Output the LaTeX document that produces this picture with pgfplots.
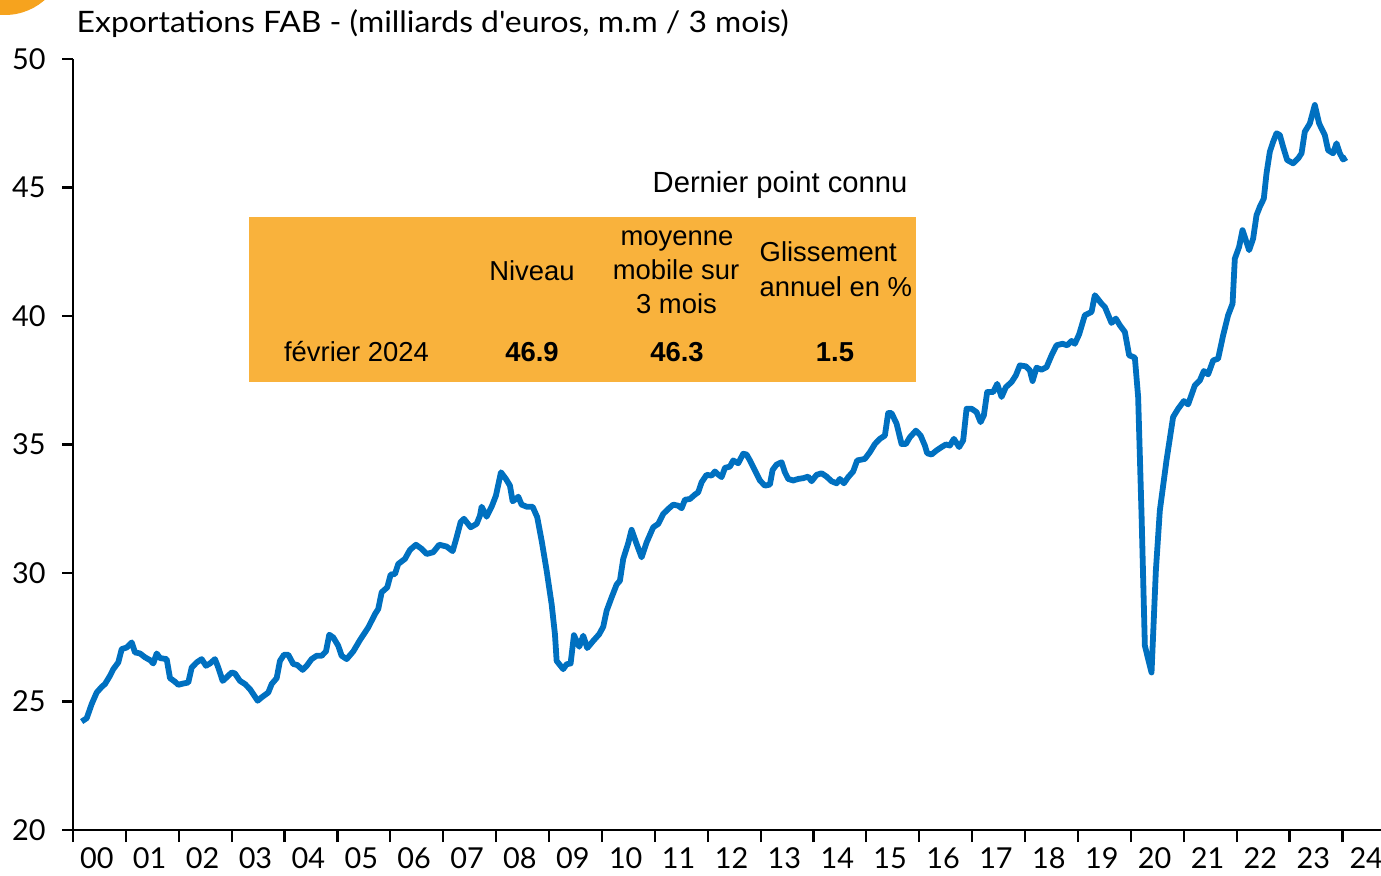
\documentclass[border=0pt]{standalone}
\usepackage{fontspec}
\setmainfont{Liberation Sans}
\newfontfamily\avfont{Lato}
\newfontfamily\avwide[FakeStretch=1.08]{Lato}
\usepackage{pgfplots}
\pgfplotsset{compat=1.18}
\definecolor{lineblue}{RGB}{0,112,192}
\definecolor{boxorange}{RGB}{249,178,60}
\definecolor{circorange}{RGB}{246,163,30}
\newcommand\tf{\fontsize{7.8pt}{9.5pt}\selectfont}
\newcommand\af{\avfont\fontsize{8.2pt}{9pt}\selectfont}
\begin{document}
\begin{tikzpicture}
\useasboundingbox (0,0) rectangle (13.81,8.75);
\begin{scope}
\clip (0,0) rectangle (13.81,8.75);
\fill[circorange] (0.05,9.20) circle (0.60);
\end{scope}
\begin{axis}[
  at={(0.73cm,0.45cm)}, anchor=south west,
  scale only axis, width=13.08cm, height=7.71cm,
  xmin=0, xmax=24.73, ymin=20, ymax=50,
  axis x line*=bottom, axis y line*=left,
  axis line style={line width=0.022cm, black, -},
  tick align=outside,
  ytick={20,25,30,35,40,45,50},
  xtick={0.45,1.45,2.45,3.45,4.45,5.45,6.45,7.45,8.45,9.45,10.45,11.45,12.45,13.45,14.45,15.45,16.45,17.45,18.45,19.45,20.45,21.45,22.45,23.45,24.45},
  xticklabels={00,01,02,03,04,05,06,07,08,09,10,11,12,13,14,15,16,17,18,19,20,21,22,23,24},
  major x tick style={draw=none},
  minor xtick={0,1,...,24},
  minor x tick style={line width=0.022cm, black},
  major y tick style={line width=0.022cm, black},
  major tick length=0.11cm, minor tick length=0.12cm,
  /pgf/number format/assume math mode=true,
  tick label style={font=\af},
  xticklabel style={yshift=0.06cm},
  yticklabel style={xshift=-0.04cm},
  clip=false,
]
\addplot[lineblue, line width=0.058cm, line join=round] coordinates {
(0.164,24.22)(0.259,24.35)(0.353,24.90)(0.448,25.35)(0.543,25.57)(0.605,25.68)(0.699,26.00)(0.762,26.26)(0.856,26.52)(0.921,27.04)(1.015,27.10)(1.110,27.30)(1.172,26.91)(1.267,26.87)(1.361,26.72)(1.456,26.61)(1.518,26.48)(1.582,26.87)(1.645,26.69)(1.771,26.65)(1.834,25.91)(1.928,25.77)(1.991,25.65)(2.085,25.70)(2.180,25.74)(2.244,26.32)(2.338,26.52)(2.433,26.65)(2.514,26.39)(2.590,26.48)(2.684,26.65)(2.747,26.32)(2.830,25.80)(2.905,25.94)(3.000,26.13)(3.062,26.09)(3.157,25.80)(3.251,25.68)(3.346,25.48)(3.408,25.29)(3.491,25.03)(3.567,25.16)(3.692,25.35)(3.756,25.68)(3.851,25.91)(3.913,26.58)(3.989,26.82)(4.070,26.82)(4.164,26.46)(4.240,26.42)(4.342,26.23)(4.418,26.39)(4.512,26.65)(4.607,26.78)(4.701,26.78)(4.783,26.95)(4.845,27.60)(4.921,27.49)(5.015,27.17)(5.079,26.78)(5.174,26.65)(5.299,26.95)(5.425,27.39)(5.582,27.88)(5.709,28.40)(5.771,28.60)(5.836,29.25)(5.941,29.44)(6.006,29.94)(6.087,29.96)(6.149,30.35)(6.276,30.55)(6.371,30.90)(6.484,31.10)(6.592,30.94)(6.686,30.74)(6.811,30.81)(6.924,31.10)(7.064,31.03)(7.178,30.85)(7.253,31.39)(7.329,31.98)(7.391,32.11)(7.518,31.78)(7.631,31.91)(7.694,32.23)(7.726,32.58)(7.820,32.19)(7.915,32.58)(7.996,33.01)(8.091,33.92)(8.185,33.66)(8.261,33.40)(8.312,32.79)(8.374,32.88)(8.418,32.97)(8.482,32.66)(8.577,32.58)(8.690,32.58)(8.777,32.17)(8.860,31.26)(8.955,30.09)(9.049,28.79)(9.112,27.62)(9.144,26.58)(9.268,26.26)(9.333,26.45)(9.408,26.48)(9.471,27.58)(9.571,27.13)(9.647,27.56)(9.722,27.08)(9.836,27.36)(9.949,27.62)(10.025,27.91)(10.089,28.53)(10.183,29.05)(10.278,29.55)(10.340,29.70)(10.403,30.55)(10.497,31.16)(10.561,31.68)(10.656,31.13)(10.750,30.61)(10.845,31.19)(10.970,31.78)(11.064,31.91)(11.159,32.30)(11.253,32.49)(11.348,32.66)(11.442,32.62)(11.507,32.52)(11.569,32.85)(11.664,32.88)(11.758,33.05)(11.820,33.14)(11.885,33.53)(11.979,33.82)(12.074,33.79)(12.136,33.95)(12.198,33.83)(12.263,33.73)(12.325,34.09)(12.420,34.14)(12.482,34.38)(12.577,34.27)(12.671,34.64)(12.735,34.61)(12.798,34.38)(12.892,33.99)(12.987,33.60)(13.081,33.40)(13.176,33.44)(13.227,34.01)(13.303,34.22)(13.397,34.31)(13.459,33.92)(13.522,33.66)(13.616,33.60)(13.711,33.66)(13.805,33.69)(13.900,33.75)(13.964,33.57)(14.059,33.82)(14.153,33.88)(14.248,33.75)(14.342,33.57)(14.437,33.49)(14.499,33.66)(14.575,33.49)(14.656,33.73)(14.750,33.95)(14.826,34.38)(14.971,34.44)(15.066,34.70)(15.161,35.02)(15.255,35.22)(15.350,35.35)(15.412,36.22)(15.476,36.22)(15.571,35.81)(15.665,35.02)(15.747,35.02)(15.822,35.28)(15.936,35.54)(16.025,35.35)(16.106,34.96)(16.149,34.66)(16.232,34.61)(16.327,34.77)(16.422,34.90)(16.503,35.00)(16.578,34.96)(16.654,35.22)(16.754,34.90)(16.830,35.16)(16.894,36.39)(16.989,36.39)(17.083,36.26)(17.159,35.87)(17.221,36.13)(17.284,37.04)(17.397,37.04)(17.473,37.36)(17.556,36.85)(17.637,37.23)(17.745,37.43)(17.826,37.69)(17.902,38.08)(18.015,38.04)(18.091,37.88)(18.142,37.47)(18.217,37.99)(18.312,37.91)(18.406,38.01)(18.501,38.47)(18.595,38.86)(18.709,38.92)(18.796,38.86)(18.879,39.03)(18.941,38.92)(19.023,39.29)(19.130,40.03)(19.257,40.16)(19.319,40.81)(19.446,40.48)(19.509,40.35)(19.635,39.73)(19.716,39.90)(19.792,39.64)(19.887,39.38)(19.968,38.47)(20.076,38.38)(20.138,36.85)(20.202,32.30)(20.265,27.17)(20.391,26.13)(20.473,30.09)(20.548,32.43)(20.674,34.38)(20.799,36.07)(20.894,36.39)(21.002,36.69)(21.083,36.56)(21.210,37.30)(21.304,37.49)(21.380,37.86)(21.461,37.73)(21.556,38.27)(21.650,38.34)(21.745,39.25)(21.839,40.03)(21.923,40.48)(21.966,42.23)(22.047,42.69)(22.111,43.34)(22.174,42.95)(22.236,42.56)(22.312,43.01)(22.376,43.92)(22.439,44.25)(22.514,44.57)(22.565,45.55)(22.628,46.39)(22.690,46.78)(22.754,47.11)(22.817,47.04)(22.879,46.58)(22.955,46.07)(23.068,45.94)(23.163,46.13)(23.227,46.33)(23.289,47.17)(23.384,47.49)(23.478,48.21)(23.560,47.49)(23.667,47.04)(23.730,46.45)(23.824,46.33)(23.889,46.72)(23.951,46.33)(24.013,46.09)(24.077,46.17)
};
\end{axis}
\node[anchor=base west, inner sep=0] at (0.76,8.42) {\avwide\fontsize{8.4pt}{9pt}\selectfont Exportations FAB - (milliards d'euros, m.m / 3 mois)};
\fill[boxorange] (2.49,4.93) rectangle (9.16,6.58);
\node[anchor=base east, inner sep=0] at (9.08,6.82) {\fontsize{8.3pt}{9.5pt}\selectfont Dernier point connu};
\node[anchor=base, inner sep=0] at (5.32,5.94) {\tf Niveau};
\node[anchor=base, inner sep=0] at (6.77,6.29) {\tf moyenne};
\node[anchor=base, inner sep=0] at (6.76,5.95) {\tf mobile sur};
\node[anchor=base, inner sep=0] at (6.765,5.61) {\tf 3 mois};
\node[anchor=base west, inner sep=0] at (7.59,6.13) {\tf Glissement};
\node[anchor=base west, inner sep=0] at (7.59,5.78) {\tf annuel en \%};
\node[anchor=base, inner sep=0] at (3.565,5.13) {\tf février 2024};
\node[anchor=base, inner sep=0] at (5.32,5.13) {\tf\bfseries 46.9};
\node[anchor=base, inner sep=0] at (6.77,5.13) {\tf\bfseries 46.3};
\node[anchor=base, inner sep=0] at (8.35,5.13) {\tf\bfseries 1.5};
\end{tikzpicture}
\end{document}
